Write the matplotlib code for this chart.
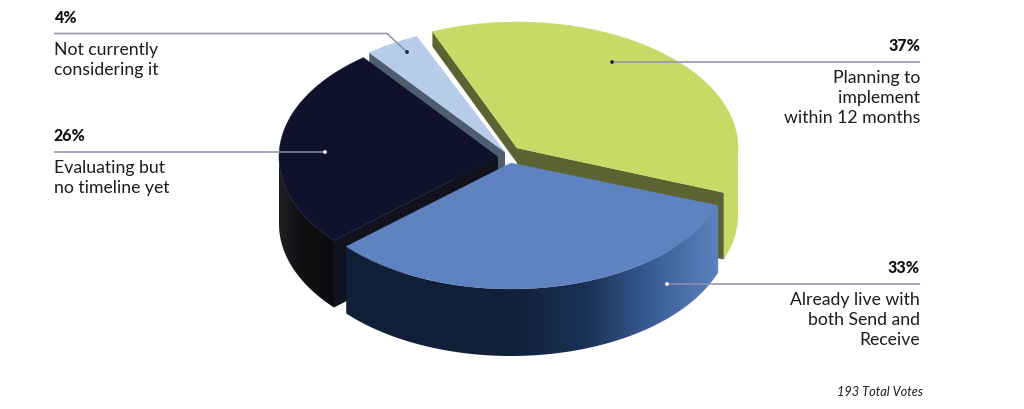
import numpy as np
import matplotlib
matplotlib.use("Agg")
import matplotlib.pyplot as plt
from matplotlib.patches import Polygon, Circle
from matplotlib.colors import LinearSegmentedColormap

# ---- data ----
categories = ["Planning to\nimplement\nwithin 12 months",
              "Already live with\nboth Send and\nReceive",
              "Evaluating but\nno timeline yet",
              "Not currently\nconsidering it"]
order_names = ["plan", "live", "eval", "none"]
values = [37, 33, 26, 4]
total_votes = "193 Total Votes"

# ---- geometry / style ----
START = 112.0
RY, DEPTH = 126.0, 67.0
RX = {"plan": 221.0, "live": 220.0, "eval": 219.0, "none": 221.0}
ROT = {"plan": 0.5, "live": 1.5, "eval": 1.5, "none": 1.5}
centers = {"plan": (517, 148), "live": (511, 163), "eval": (498, 157), "none": (505, 152)}
TOP = {"plan": "#c8da65", "live": "#5f83c1", "eval": "#10112d", "none": "#b6cce8"}
CUT = {"plan": "#5b6333", "eval": "#12121e", "none": "#4f5d70"}
TEXT = "#1c1c20"
LINE = "#8e8fae"
FONT = "Lato"

fig = plt.figure(figsize=(10.24, 4.09), dpi=100, facecolor="white")
ax = fig.add_axes([0, 0, 1, 1])
ax.axis("off")

# angular spans derived from the values
spans = {}
a = START
for n, v in zip(order_names, values):
    spans[n] = (a + ROT[n], a - v / sum(values) * 360.0 + ROT[n])
    a -= v / sum(values) * 360.0


def pt(name, deg, dz=0.0):
    cx, cy = centers[name]
    t = np.radians(deg)
    return np.array([cx + RX[name] * np.cos(t), cy - RY * np.sin(t) + dz])


def top_face(name, z):
    a0, a1 = spans[name]
    arc = [pt(name, d) for d in np.linspace(a0, a1, 160)]
    ax.add_patch(Polygon([centers[name]] + arc, closed=True, fc=TOP[name],
                         ec=TOP[name], lw=0.3, zorder=z))


def cut_face(name, deg, z, depth=DEPTH):
    c = np.array(centers[name], float)
    p = pt(name, deg)
    d = np.array([0, depth])
    ax.add_patch(Polygon([p, c, c + d, p + d], closed=True, fc=CUT[name],
                         ec="none", zorder=z))


def side(name, a0, a1, stops_x, stops_c, z):
    ds = np.linspace(a0, a1, 120)
    upper = [pt(name, d) for d in ds]
    lower = [pt(name, d, DEPTH) for d in ds[::-1]]
    poly = Polygon(upper + lower, closed=True, fc="none", ec="none",
                   transform=ax.transData)
    ax.add_patch(poly)
    x0, x1 = stops_x[0], stops_x[-1]
    pos = [(x - x0) / (x1 - x0) for x in stops_x]
    cmap = LinearSegmentedColormap.from_list(name, list(zip(pos, stops_c)))
    grad = np.linspace(0, 1, 256)[None, :]
    im = ax.imshow(grad, cmap=cmap, aspect="auto", extent=(x0, x1, 400, 100),
                   zorder=z, interpolation="bilinear")
    im.set_clip_path(poly)


# green slice
a0, a1 = spans["plan"]
side("plan", a1, 0, [700, 740], ["#c8da65", "#c8da65"], 1)
cut_face("plan", a0, 2, depth=15)
cut_face("plan", a1, 2)
top_face("plan", 3)

# pale slice
a0, a1 = spans["none"]
cut_face("none", a0, 4)
top_face("none", 5)

# dark slice
a0, a1 = spans["eval"]
side("eval", a0, -180, [275, 300, 335], ["#222228", "#111114", "#0b0b0e"], 6)
cut_face("eval", a0, 7)
top_face("eval", 8)

# blue slice
a0, a1 = spans["live"]
side("live", a0, a1, [345, 510, 590, 650, 720],
     ["#112039", "#112039", "#1b3358", "#395c93", "#5c82bf"], 9)
top_face("live", 10)

# leaders: (x0, y, xknee, xdot, ydot, dot colour)
leaders = [
    (54, 33.5, 387, 407, 52, "#1c2350"),
    (54, 152, 325, 325, 152, "white"),
    (920, 62, 612, 612, 62, "#1c2350"),
    (920, 284, 667, 667, 284, "white"),
]
for x0, y, xk, xd, yd, dc in leaders:
    ax.plot([x0, xk, xd], [y, y, yd], color=LINE, lw=1.1, zorder=12, solid_capstyle="butt")
    ax.add_patch(Circle((xd, yd), 1.9, fc=dc, ec="none", zorder=13))

# texts
labels = [
    (54, "left", "4%", 18, categories[3].split("\n"), 50),
    (54, "left", "26%", 136, categories[2].split("\n"), 168),
    (920, "right", "37%", 46, categories[0].split("\n"), 78),
    (920, "right", "33%", 268, categories[1].split("\n"), 300),
]
LH = 19.8
for x, ha, pct, yp, lines, yl in labels:
    ax.text(x, yp, pct, ha=ha, va="center", fontsize=11.5, fontweight="black",
            color="#111114", family=FONT, zorder=14)
    for i, s in enumerate(lines):
        ax.text(x, yl + i * LH, s, ha=ha, va="center", fontsize=12.7, color=TEXT,
                family=FONT, zorder=14)
ax.text(923, 392, total_votes, ha="right", va="center", fontsize=9.2, style="italic",
        color=TEXT, family=FONT, zorder=14)

ax.set_xlim(0, 1024)
ax.set_ylim(409, 0)
fig.savefig("out.png", dpi=100, facecolor="white")
